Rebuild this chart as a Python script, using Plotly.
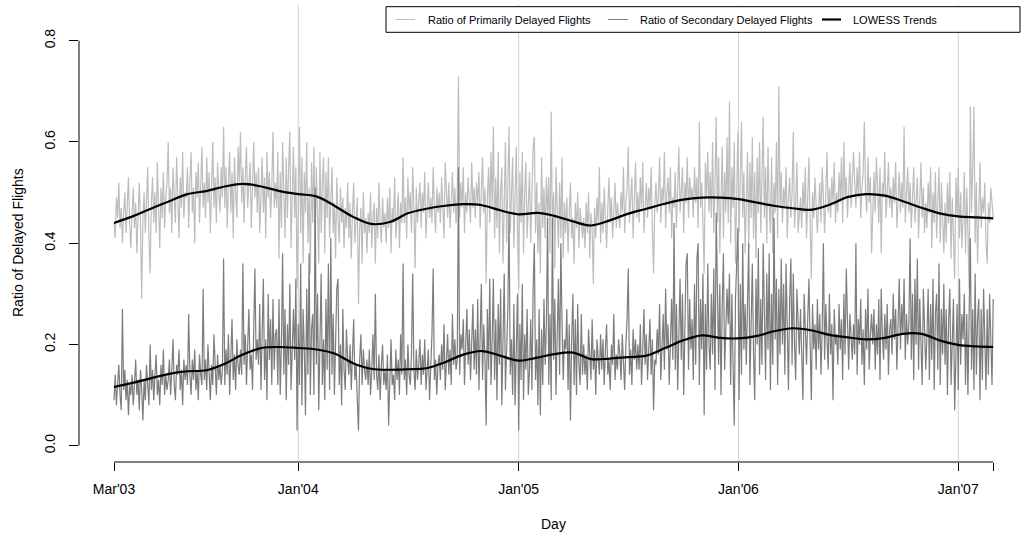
import pandas as pd
import plotly.graph_objects as go

# Share of delayed flights, every second day from 1 Mar 2003 (percent)
primary_pct = [
    44, 41, 49, 45, 52, 43, 47, 40, 46, 50, 42, 48, 53, 44, 39,
    46, 51, 43, 48, 38, 47, 52, 44, 29, 45, 50, 42, 47, 55, 41,
    34, 48, 53, 44, 50, 42, 56, 47, 39, 51, 45, 54, 43, 49, 52,
    60, 46, 51, 42, 55, 48, 44, 57, 50, 41, 53, 47, 58, 45, 50,
    49, 55, 43, 52, 58, 46, 51, 40, 54, 49, 56, 44, 53, 59, 47,
    52, 45, 57, 48, 54, 42, 51, 60, 47, 53, 44, 56, 50, 46, 55,
    49, 63, 47, 55, 43, 52, 58, 46, 54, 41, 57, 50, 45, 59, 52,
    62, 48, 55, 44, 53, 59, 47, 52, 56, 43, 51, 60, 49, 54, 46,
    55, 42, 50, 57, 46, 53, 41, 58, 49, 54, 45, 51, 62, 47, 52,
    47, 58, 37, 54, 43, 60, 49, 41, 57, 45, 55, 62, 39, 50, 59,
    45, 55, 31, 51, 63, 42, 57, 36, 54, 46, 60, 40, 51, 34, 56,
    44, 59, 39, 55, 46, 36, 58, 42, 52, 57, 38, 54, 45, 57, 41,
    50, 55, 42, 48, 37, 53, 45, 40, 51, 44, 49, 39, 47, 43, 52,
    41, 48, 37, 46, 52, 40, 44, 49, 28, 43, 47, 36, 50, 42, 45,
    38, 46, 42, 50, 39, 45, 48, 36, 47, 41, 52, 44, 40, 49, 43,
    46, 40, 49, 43, 51, 38, 47, 44, 53, 41, 45, 50, 39, 48, 44,
    57, 44, 49, 41, 53, 46, 50, 42, 55, 47, 35, 51, 44, 48, 52,
    43, 50, 46, 54, 41, 48, 52, 45, 49, 44, 55, 47, 42, 51, 46,
    50, 44, 53, 47, 41, 56, 49, 45, 52, 43, 48, 54, 46, 51, 44,
    49, 73, 45, 52, 47, 55, 42, 50, 46, 53, 48, 44, 56, 47, 51,
    45, 52, 48, 54, 43, 50, 57, 46, 51, 32, 49, 55, 44, 58, 47,
    63, 41, 53, 43, 58, 38, 50, 55, 36, 47, 60, 40, 52, 63, 42,
    49, 57, 39, 51, 59, 42, 31, 54, 44, 58, 38, 50, 56, 41, 48,
    54, 40, 50, 59, 61, 42, 52, 38, 48, 34, 57, 43, 51, 41, 53,
    45, 53, 38, 66, 42, 50, 35, 55, 44, 39, 52, 41, 57, 37, 48,
    42, 49, 38, 46, 52, 41, 45, 36, 48, 43, 50, 39, 47, 44, 41,
    45, 39, 48, 42, 50, 37, 46, 43, 32, 47, 41, 49, 44, 55, 40,
    48, 42, 51, 45, 39, 47, 53, 44, 49, 41, 46, 52, 43, 48, 45,
    43, 50, 46, 55, 42, 48, 51, 59, 44, 49, 53, 41, 47, 56, 45,
    50, 44, 53, 47, 56, 42, 49, 52, 45, 51, 47, 55, 43, 34, 48,
    52, 46, 49, 57, 44, 51, 48, 58, 43, 50, 53, 46, 55, 41, 49,
    47, 54, 43, 51, 59, 46, 50, 55, 42, 52, 48, 57, 45, 53, 49,
    51, 45, 55, 48, 53, 43, 64, 47, 52, 44, 34, 56, 49, 58, 46,
    54, 45, 60, 42, 52, 65, 44, 57, 38, 51, 59, 41, 54, 46, 61,
    44, 68, 40, 55, 47, 60, 36, 52, 62, 42, 57, 64, 45, 54, 38,
    51, 58, 39, 56, 45, 61, 41, 54, 37, 57, 46, 60, 42, 53, 65,
    45, 55, 40, 59, 48, 42, 57, 38, 52, 46, 60, 41, 71, 47, 54,
    44, 51, 47, 55, 41, 49, 53, 45, 50, 62, 43, 48, 56, 42, 47,
    49, 43, 52, 46, 55, 41, 48, 57, 44, 33, 50, 45, 53, 47, 42,
    47, 52, 44, 55, 49, 42, 50, 58, 46, 51, 45, 53, 48, 56, 44,
    50, 46, 54, 48, 57, 44, 60, 49, 53, 45, 51, 56, 47, 52, 58,
    52, 47, 55, 49, 58, 45, 51, 54, 64, 50, 46, 57, 48, 53, 38,
    48, 54, 46, 57, 51, 44, 55, 38, 52, 49, 58, 45, 50, 56, 47,
    51, 45, 53, 48, 56, 43, 50, 54, 46, 52, 47, 63, 44, 49, 55,
    46, 52, 43, 50, 55, 44, 48, 53, 41, 49, 56, 45, 51, 42, 48,
    43, 52, 46, 55, 39, 50, 44, 54, 41, 49, 55, 40, 52, 45, 38,
    48, 40, 52, 44, 54, 37, 49, 42, 33, 53, 45, 55, 41, 50, 39,
    45, 54, 38, 51, 42, 31, 67, 46, 55, 67, 40, 52, 36, 49, 56,
    43, 49, 46, 52, 40, 36, 48, 44, 51, 47, 45,
]

secondary_pct = [
    9, 14, 8, 12, 16, 10, 7, 27, 11, 15, 9, 13, 6, 12, 10,
    14, 8, 12, 17, 10, 13, 7, 15, 11, 5, 13, 9, 16, 12, 8,
    20, 11, 15, 9, 14, 18, 10, 13, 8, 16, 12, 19, 10, 14, 11,
    13, 17, 10, 15, 21, 12, 9, 16, 14, 19, 11, 15, 8, 17, 13,
    16, 12, 26, 14, 10, 17, 13, 19, 11, 15, 9, 18, 14, 12, 31,
    13, 17, 11, 20, 14, 9, 16, 12, 22, 15, 10, 18, 13, 16, 12,
    15, 37, 12, 19, 14, 22, 10, 17, 25, 13, 18, 11, 21, 16, 14,
    19, 14, 36, 16, 22, 12, 20, 27, 15, 18, 11, 24, 35, 17, 21,
    16, 28, 11, 23, 33, 13, 21, 9, 30, 17, 25, 12, 29, 15, 22,
    23, 12, 29, 10, 20, 38, 14, 27, 9, 24, 16, 32, 11, 22, 27,
    17, 33, 3, 24, 12, 36, 8, 27, 19, 6, 31, 14, 38, 10, 23,
    26, 10, 51, 16, 30, 7, 24, 34, 12, 21, 9, 29, 15, 36, 11,
    41, 14, 26, 10, 22, 31, 33, 12, 20, 8, 27, 15, 11, 23, 17,
    14, 20, 11, 18, 25, 13, 16, 9, 3, 17, 22, 12, 19, 15, 13,
    17, 12, 19, 10, 15, 22, 13, 30, 14, 11, 18, 9, 16, 20, 12,
    15, 11, 18, 4, 16, 21, 12, 14, 9, 19, 13, 17, 10, 22, 14,
    36, 13, 17, 10, 20, 14, 12, 18, 34, 15, 11, 19, 13, 16, 21,
    12, 18, 14, 21, 11, 16, 19, 9, 15, 22, 35, 13, 17, 10, 16,
    18, 13, 20, 15, 24, 11, 17, 22, 14, 19, 12, 26, 16, 21, 15,
    17, 55, 14, 22, 19, 25, 12, 20, 27, 16, 23, 13, 19, 28, 15,
    23, 14, 29, 11, 20, 32, 13, 24, 17, 4, 27, 15, 33, 12, 21,
    33, 13, 25, 9, 28, 16, 31, 8, 22, 34, 11, 20, 27, 46, 14,
    21, 10, 28, 8, 19, 30, 3, 24, 13, 32, 9, 22, 15, 27, 10,
    15, 25, 11, 31, 40, 13, 21, 8, 27, 6, 23, 12, 29, 16, 24,
    45, 12, 26, 9, 45, 17, 29, 10, 22, 33, 14, 40, 24, 13, 21,
    19, 27, 11, 24, 5, 21, 30, 12, 25, 10, 28, 16, 12, 26, 14,
    20, 14, 18, 11, 23, 16, 13, 25, 15, 19, 10, 21, 17, 14, 22,
    15, 21, 12, 19, 24, 14, 17, 11, 20, 16, 26, 13, 18, 15, 21,
    18, 13, 22, 16, 11, 20, 25, 35, 14, 19, 12, 23, 17, 21, 15,
    20, 15, 24, 12, 19, 27, 16, 22, 13, 18, 25, 14, 21, 7, 17,
    16, 23, 18, 28, 13, 21, 26, 15, 31, 19, 24, 12, 22, 29, 17,
    44, 15, 28, 11, 24, 33, 17, 30, 10, 27, 36, 38, 15, 29, 19,
    25, 13, 32, 16, 37, 40, 12, 29, 19, 34, 6, 28, 15, 36, 20,
    15, 30, 18, 35, 11, 46, 26, 16, 32, 10, 28, 38, 15, 25, 31,
    24, 34, 12, 30, 16, 4, 29, 37, 43, 9, 32, 14, 40, 19, 28,
    16, 31, 40, 12, 27, 36, 18, 9, 33, 20, 39, 14, 29, 16, 40,
    26, 13, 34, 19, 38, 11, 30, 16, 45, 21, 33, 12, 31, 18, 37,
    20, 32, 14, 36, 22, 11, 29, 37, 16, 34, 20, 13, 31, 23, 18,
    27, 18, 9, 30, 22, 16, 25, 33, 20, 9, 28, 19, 24, 15, 29,
    19, 26, 14, 23, 40, 17, 28, 21, 15, 30, 18, 24, 9, 27, 20,
    22, 16, 28, 19, 25, 13, 30, 18, 35, 21, 15, 26, 20, 17, 24,
    18, 40, 14, 25, 20, 29, 16, 23, 12, 27, 19, 31, 15, 22, 26,
    20, 27, 15, 24, 18, 29, 13, 31, 22, 17, 26, 19, 28, 14, 23,
    25, 18, 30, 21, 27, 15, 24, 33, 19, 28, 22, 33, 17, 26, 20,
    24, 41, 17, 30, 13, 33, 20, 37, 15, 29, 18, 12, 31, 22, 15,
    22, 31, 13, 28, 17, 33, 11, 26, 30, 15, 36, 12, 27, 18, 32,
    16, 27, 10, 25, 31, 12, 22, 29, 7, 18, 28, 11, 33, 16, 26,
    21, 30, 12, 26, 10, 32, 41, 15, 27, 11, 34, 14, 25, 29, 9,
    27, 13, 31, 17, 11, 27, 14, 30, 18, 12, 29,
]

# LOWESS trend levels on the first of each month, plus the final day
trend_dates = [d.strftime("%Y-%m-%d") for d in pd.date_range("2003-03-01", "2007-02-01", freq="MS")] + ["2007-02-28"]
primary_trend = [
    0.440, 0.453, 0.468, 0.483, 0.497, 0.503, 0.512, 0.517, 0.512, 0.503,
    0.497, 0.492, 0.474, 0.452, 0.438, 0.442, 0.459, 0.468, 0.474, 0.477,
    0.475, 0.465, 0.457, 0.460, 0.454, 0.443, 0.435, 0.445, 0.458, 0.468,
    0.478, 0.486, 0.490, 0.490, 0.487, 0.480, 0.474, 0.469, 0.466, 0.476,
    0.491, 0.497, 0.494, 0.483, 0.470, 0.459, 0.453, 0.451, 0.449,
]
secondary_trend = [
    0.116, 0.124, 0.133, 0.142, 0.147, 0.149, 0.162, 0.180, 0.193, 0.195,
    0.193, 0.190, 0.182, 0.163, 0.152, 0.150, 0.151, 0.153, 0.165, 0.180,
    0.187, 0.178, 0.168, 0.174, 0.181, 0.184, 0.171, 0.172, 0.175, 0.178,
    0.193, 0.208, 0.218, 0.213, 0.212, 0.217, 0.226, 0.232, 0.228, 0.219,
    0.214, 0.210, 0.213, 0.221, 0.221, 0.208, 0.199, 0.196, 0.195,
]

tick_dates = ["2003-03-01", "2004-01-01", "2005-01-01", "2006-01-01", "2007-01-01", "2007-02-28"]
tick_labels = ["Mar'03", "Jan'04", "Jan'05", "Jan'06", "Jan'07", ""]
year_starts = ["2004-01-01", "2005-01-01", "2006-01-01", "2007-01-01"]
y_ticks = [0.0, 0.2, 0.4, 0.6, 0.8]
y_tick_labels = ["0.0", "0.2", "0.4", "0.6", "0.8"]

legend_names = ["Ratio of Primarily Delayed Flights", "Ratio of Secondary Delayed Flights", "LOWESS Trends"]

# ---- styling / geometry ----
W, H = 1025, 536
ML, MR, MT, MB = 79, 0, 24, 74
PW, PH = W - ML - MR, H - MT - MB
FONT = "Liberation Sans, Arial, Helvetica, sans-serif"
C_PRIMARY = "#bdbdbd"
C_SECONDARY = "#7d7d7d"
C_TREND = "#000000"
C_GRID = "#d0d0d0"

X0_PX = 114.0            # pixel of the first day
PX_PER_DAY = 0.6022
START = pd.Timestamp("2003-03-01")
x_lo = START + pd.Timedelta(days=(ML - X0_PX) / PX_PER_DAY)
x_hi = START + pd.Timedelta(days=(W - MR - X0_PX) / PX_PER_DAY)

Y_ZERO_PX, PX_PER_UNIT = 445.7, 506.25
y_lo = -(MT + PH - Y_ZERO_PX) / PX_PER_UNIT
y_hi = (Y_ZERO_PX - MT) / PX_PER_UNIT


def xp(px):
    return (px - ML) / PW


def yp(py):
    return (MT + PH - py) / PH


primary_days = pd.date_range("2003-03-01", periods=len(primary_pct), freq="2D")
secondary_days = pd.date_range("2003-03-01", periods=len(secondary_pct), freq="2D")

fig = go.Figure()
fig.add_trace(go.Scatter(x=primary_days, y=[v / 100 for v in primary_pct], mode="lines",
                         line=dict(color=C_PRIMARY, width=1.2), name=legend_names[0], showlegend=False))
fig.add_trace(go.Scatter(x=secondary_days, y=[v / 100 for v in secondary_pct], mode="lines",
                         line=dict(color=C_SECONDARY, width=1.2), name=legend_names[1], showlegend=False))
fig.add_trace(go.Scatter(x=trend_dates, y=primary_trend, mode="lines",
                         line=dict(color=C_TREND, width=2.2, shape="spline", smoothing=1.0),
                         name=legend_names[2], showlegend=False))
fig.add_trace(go.Scatter(x=trend_dates, y=secondary_trend, mode="lines",
                         line=dict(color=C_TREND, width=2.2, shape="spline", smoothing=1.0),
                         name=legend_names[2], showlegend=False))

shapes = []
# vertical reference lines at each new year
for d in year_starts:
    shapes.append(dict(type="line", xref="x", yref="paper", x0=d, x1=d, y0=0, y1=yp(5),
                       line=dict(color=C_GRID, width=1), layer="below"))
# axis lines spanning only the tick range
shapes.append(dict(type="line", xref="x", yref="paper", x0=tick_dates[0], x1=tick_dates[-1], y0=0, y1=0,
                   line=dict(color="#000000", width=1)))
shapes.append(dict(type="line", xref="paper", yref="y", x0=0, x1=0, y0=y_ticks[0], y1=y_ticks[-1],
                   line=dict(color="#000000", width=1)))
# legend box and samples
shapes.append(dict(type="rect", xref="paper", yref="paper", x0=xp(386), x1=xp(1020), y0=yp(32.3), y1=yp(6.7),
                   line=dict(color="#000000", width=1), fillcolor="#ffffff", layer="above"))
legend_y = yp(19.5)
sample_spans = [(396, 415, C_PRIMARY, 1), (608, 628, C_SECONDARY, 1), (822, 841, C_TREND, 2.2)]
for a, b, col, w in sample_spans:
    shapes.append(dict(type="line", xref="paper", yref="paper", x0=xp(a), x1=xp(b), y0=legend_y, y1=legend_y,
                       line=dict(color=col, width=w), layer="above"))

annotations = []
for name, left in zip(legend_names, [425.7, 638, 850.7]):
    annotations.append(dict(text=name, xref="paper", yref="paper", x=xp(left), y=legend_y,
                            xanchor="left", yanchor="middle", showarrow=False,
                            font=dict(family=FONT, size=11, color="#000000")))
annotations.append(dict(text="Day", xref="paper", yref="paper", x=xp(553.5), y=yp(524),
                        xanchor="center", yanchor="middle", showarrow=False,
                        font=dict(family=FONT, size=14, color="#000000")))
annotations.append(dict(text="Ratio of Delayed Flights", xref="paper", yref="paper", x=xp(18), y=yp(243),
                        xanchor="center", yanchor="middle", textangle=-90, showarrow=False,
                        font=dict(family=FONT, size=14, color="#000000")))

fig.update_layout(
    width=W, height=H,
    margin=dict(l=ML, r=MR, t=MT, b=MB, pad=0),
    paper_bgcolor="#ffffff", plot_bgcolor="#ffffff",
    showlegend=False,
    font=dict(family=FONT, size=14, color="#000000"),
    shapes=shapes, annotations=annotations,
    xaxis=dict(type="date", range=[x_lo, x_hi], tickmode="array", tickvals=tick_dates, ticktext=tick_labels,
               ticks="outside", ticklen=8, tickwidth=1, tickcolor="#000000", showgrid=False, zeroline=False,
               showline=False, tickfont=dict(family=FONT, size=14, color="#000000"), ticklabelstandoff=6),
    yaxis=dict(range=[y_lo, y_hi], tickmode="array", tickvals=y_ticks, ticktext=y_tick_labels,
               ticks="outside", ticklen=9, tickwidth=1, tickcolor="#000000", showgrid=False, zeroline=False,
               showline=False, tickangle=-90, tickfont=dict(family=FONT, size=14, color="#000000"),
               ticklabelstandoff=8),
)

fig.write_html("out.html")
